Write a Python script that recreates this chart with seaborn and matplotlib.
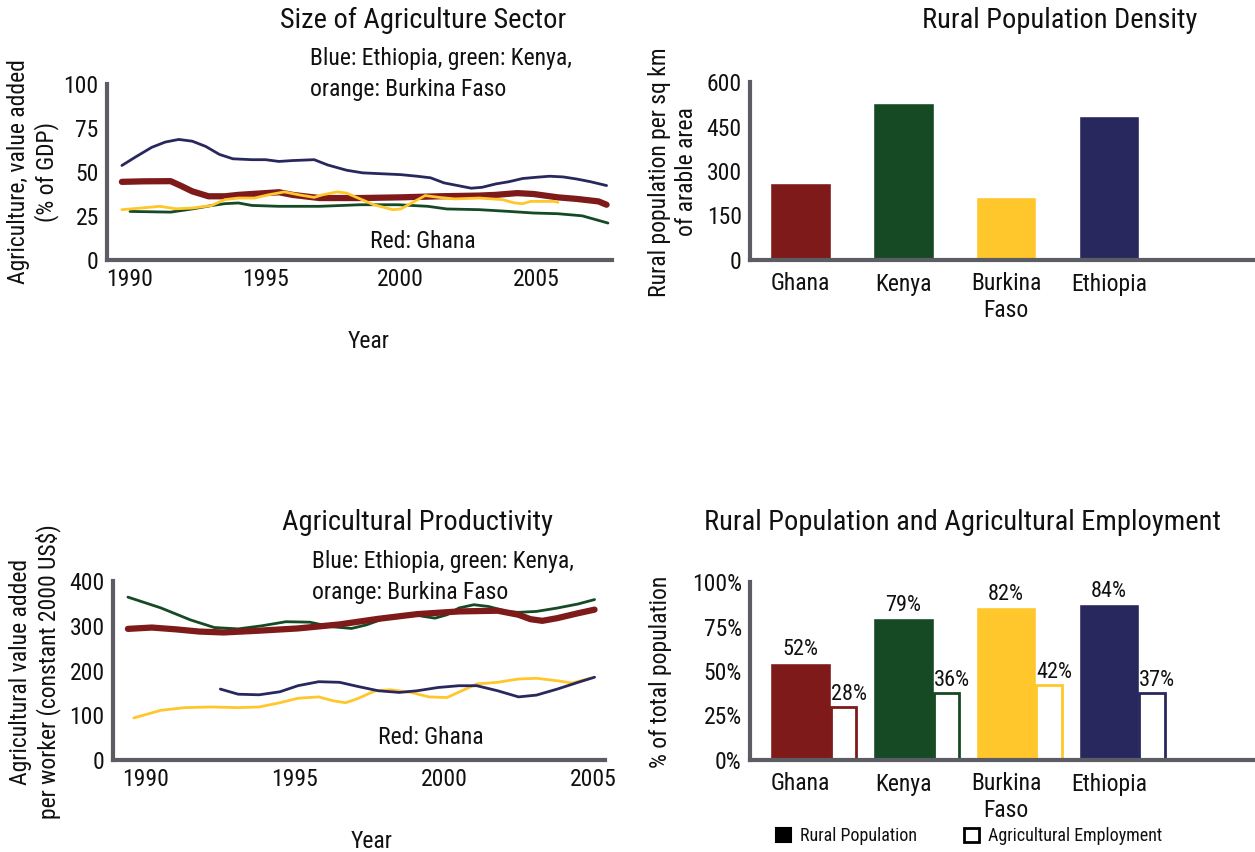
"""
Four panel chart: agriculture in Ghana, Kenya, Burkina Faso and Ethiopia.
"""
import numpy as np
import pandas as pd
import matplotlib
matplotlib.use("Agg")
import matplotlib.pyplot as plt
from matplotlib.patches import Patch
from matplotlib import font_manager
import seaborn as sns

# colours per country
RED = "#7f1a1a"
GREEN = "#154a25"
YELLOW = "#ffc72c"
NAVY = "#29285e"
SPINE = "#5c5c64"

countries = ["Ghana", "Kenya", "Burkina\nFaso", "Ethiopia"]
colors = [RED, GREEN, YELLOW, NAVY]

# --- Size of agriculture sector (% of GDP)
eth_gdp_year = [1989.7, 1990.2, 1990.8, 1991.3, 1991.8, 1992.3, 1992.8, 1993.3,
                1993.8, 1994.5, 1995.0, 1995.5, 1996.0, 1996.8, 1997.3, 1998.0,
                1998.6, 1999.3, 2000.0, 2000.6, 2001.1, 2001.6, 2002.2, 2002.6,
                2003.0, 2003.5, 2004.0, 2004.5, 2005.0, 2005.5, 2006.0, 2006.5,
                2007.0, 2007.6]
eth_gdp = [53.7, 58.5, 64, 67, 68.5, 67.5, 64.5, 60, 57.5, 57, 57, 56, 56.5,
           57, 54, 51, 49.5, 49, 48.5, 47.6, 46.7, 43.8, 42, 40.8, 41.3, 43.2,
           44.5, 46.3, 47, 47.6, 47.2, 46, 44.5, 42.3]

gha_gdp_year = [1989.7, 1990.5, 1991.5, 1991.9, 1992.3, 1992.9, 1993.5, 1994.0,
                1995.0, 1995.5, 1996.0, 1997.0, 1998.5, 2000.0, 2001.4, 2002.9,
                2003.5, 2004.3, 2004.9, 2005.8, 2006.5, 2007.3, 2007.6]
gha_gdp = [44.4, 44.7, 44.8, 42, 39, 36.2, 36.2, 37, 38, 38.5, 37, 35.2, 35.2,
           35.6, 36.2, 36.6, 37, 38, 37.5, 35.6, 34.7, 33.3, 31.4]

bfa_gdp_year = [1989.7, 1990.4, 1991.1, 1991.7, 1992.3, 1993.0, 1993.5, 1994.0,
                1994.6, 1995.1, 1995.7, 1996.25, 1996.8, 1997.1, 1997.65, 1998.0,
                1998.5, 1999.0, 1999.7, 2000.0, 2000.4, 2000.9, 2001.4, 2002.0,
                2002.9, 2003.75, 2004.2, 2004.5, 2004.8, 2005.65, 2005.8]
bfa_gdp = [28.6, 29.5, 30.5, 29.1, 29.5, 30.9, 34.3, 35.2, 35.2, 37, 38.7, 37,
           35.6, 37, 38.7, 38, 34.7, 31.4, 28.6, 29, 32.4, 36.6, 35.6, 34.7,
           35.2, 34.3, 32.4, 32, 33.3, 33.3, 32.8]

ken_gdp_year = [1990.0, 1991.5, 1992.3, 1993.0, 1993.5, 1994.0, 1994.5, 1995.5,
                1997.0, 1997.7, 1998.5, 1999.9, 2001.0, 2001.7, 2002.9, 2004.0,
                2004.9, 2005.8, 2006.7, 2007.65]
ken_gdp = [27.6, 27.2, 29, 30.9, 32, 32.4, 31, 30.5, 30.5, 30.9, 31.4, 31.4,
           30.5, 29, 28.6, 27.6, 26.7, 26.3, 25.1, 21]

# --- Agricultural productivity (value added per worker, constant 2000 US$)
ken_prod_year = [1989.4, 1990.5, 1991.5, 1992.3, 1993.1, 1993.9, 1994.7, 1995.5,
                 1996.2, 1996.9, 1997.4, 1998.2, 1998.9, 1999.3, 1999.7, 2000.1,
                 2000.5, 2001.0, 2001.5, 2002.1, 2002.5, 2003.1, 2003.8, 2004.5,
                 2005.05]
ken_prod = [364, 340, 313, 296, 293, 300, 309, 308, 298, 294, 302, 321, 326,
            321, 317, 324.5, 339.6, 347, 343, 332, 330, 332, 339.6, 348.7, 358.5]

gha_prod_year = [1989.4, 1990.2, 1991.0, 1991.8, 1992.6, 1993.8, 1995.1, 1996.5,
                 1997.8, 1999.1, 2000.5, 2001.8, 2002.5, 2002.9, 2003.3, 2003.8,
                 2004.5, 2005.05]
gha_prod = [293, 296, 292, 287, 285, 289, 294, 303, 315.5, 326, 332, 333.6,
            324.5, 314.7, 311, 317, 328, 336]

eth_prod_year = [1992.5, 1993.1, 1993.8, 1994.5, 1995.1, 1995.8, 1996.5, 1997.1,
                 1997.8, 1998.5, 1999.1, 1999.8, 2000.5, 2001.1, 2001.8, 2002.5,
                 2003.1, 2003.8, 2004.5, 2005.05]
eth_prod = [158.5, 147, 145.7, 152.5, 166, 175, 173.6, 164.5, 154.7, 151, 154.7,
            162, 166, 166, 154.7, 141, 145, 158.5, 173.6, 185]

bfa_prod_year = [1989.6, 1990.5, 1991.3, 1992.2, 1993.1, 1993.8, 1994.5, 1995.1,
                 1995.8, 1996.3, 1996.7, 1997.1, 1997.7, 1998.2, 1998.9, 1999.5,
                 2000.1, 2000.6, 2001.1, 2001.8, 2002.5, 2003.1, 2003.8, 2004.3,
                 2004.9]
bfa_prod = [94, 111, 117, 118.5, 117, 118.5, 128, 138, 141, 132, 128, 137,
            154.7, 157, 151, 141, 139.6, 154.7, 170, 173.6, 181, 182.6, 177,
            172, 182.6]

# --- Rural population density (per sq km of arable area)
density = [260, 530, 212, 486]

# --- Rural population and agricultural employment (% of total population)
rural_pct = [54.7, 79.6, 85.8, 87.7]
rural_lbl = ["52%", "79%", "82%", "84%"]
emp_pct = [29.6, 37.4, 41.9, 37.7]
emp_lbl = ["28%", "36%", "42%", "37%"]

sns.set_theme(style="white")

# pick a narrow face if one is around
names = {f.name for f in font_manager.fontManager.ttflist}
narrow = [n for n in ["Liberation Sans Narrow", "Roboto Condensed",
                      "Noto Sans Condensed", "DejaVu Sans Condensed",
                      "Open Sans Condensed"] if n in names]
plt.rcParams["font.family"] = narrow + ["Noto Sans", "DejaVu Sans"]
if not narrow:
    plt.rcParams["font.stretch"] = "condensed"
plt.rcParams["text.color"] = "#111111"
plt.rcParams["xtick.color"] = "#111111"
plt.rcParams["ytick.color"] = "#111111"

W, H = 1255, 852
fig = plt.figure(figsize=(W / 100, H / 100), dpi=100)

TITLE = 20.5
BODY = 17


def px_axes(left, top, right, bottom):
    """Axes from pixel box (origin top left)."""
    return fig.add_axes([left / W, 1 - bottom / H, (right - left) / W,
                         (bottom - top) / H])


def style(ax):
    sns.despine(ax=ax)
    for s in ["left", "bottom"]:
        ax.spines[s].set_color(SPINE)
        ax.spines[s].set_linewidth(3)
    ax.tick_params(length=0, labelsize=BODY, pad=6)
    ax.set_xlabel("")
    ax.set_ylabel("")


def draw_line(ax, x, y, color, lw):
    sns.lineplot(x=x, y=y, color=color, linewidth=lw, ax=ax, sort=False)


# top left
ax1 = px_axes(107, 84, 612, 260)
draw_line(ax1, ken_gdp_year, ken_gdp, GREEN, 2)
draw_line(ax1, gha_gdp_year, gha_gdp, RED, 4.5)
draw_line(ax1, bfa_gdp_year, bfa_gdp, YELLOW, 2)
draw_line(ax1, eth_gdp_year, eth_gdp, NAVY, 2)
ax1.set_xlim(1989.15, 2007.8)
ax1.set_ylim(0, 100)
ax1.set_xticks([1990, 1995, 2000, 2005])
ax1.set_yticks([0, 25, 50, 75, 100])
style(ax1)

# bottom left
ax3 = px_axes(113, 581, 605, 760)
draw_line(ax3, ken_prod_year, ken_prod, GREEN, 2)
draw_line(ax3, gha_prod_year, gha_prod, RED, 4.5)
draw_line(ax3, bfa_prod_year, bfa_prod, YELLOW, 2)
draw_line(ax3, eth_prod_year, eth_prod, NAVY, 2)
ax3.set_xlim(1988.9, 2005.4)
ax3.set_ylim(0, 400)
ax3.set_xticks([1990, 1995, 2000, 2005])
ax3.set_yticks([0, 100, 200, 300, 400])
style(ax3)

# top right
ax2 = px_axes(750, 82, 1255, 260)
dens_df = pd.DataFrame({"country": countries, "value": density})
sns.barplot(data=dens_df, x="country", y="value", hue="country",
            palette=colors, saturation=1, width=0.59, legend=False, ax=ax2)
ax2.set_xlim(-0.49, 4.42)
ax2.set_ylim(0, 600)
ax2.set_yticks([0, 150, 300, 450, 600])
style(ax2)
ax2.tick_params(axis="x", pad=9)

# bottom right
ax4 = px_axes(750, 582, 1255, 760)
rur_df = pd.DataFrame({"country": countries, "value": rural_pct})
sns.barplot(data=rur_df, x="country", y="value", hue="country",
            palette=colors, saturation=1, width=0.59, legend=False, ax=ax4)
pos = np.arange(len(countries))
ax4.bar(pos + 0.295 + 0.125, emp_pct, width=0.25, facecolor="white",
        edgecolor=colors, linewidth=2, zorder=1)
for i in range(len(countries)):
    ax4.text(pos[i], rural_pct[i] + 1.2, rural_lbl[i], ha="center",
             va="bottom", fontsize=16)
    ax4.text(pos[i] + 0.47, emp_pct[i] + 1.2, emp_lbl[i], ha="center",
             va="bottom", fontsize=16)
ax4.set_xlim(-0.49, 4.42)
ax4.set_ylim(0, 100)
ax4.set_yticks([0, 25, 50, 75, 100])
ax4.set_yticklabels(["0%", "25%", "50%", "75%", "100%"])
style(ax4)
ax4.tick_params(axis="x", pad=9)

# titles
fig.text(423 / W, 1 - 20 / H, "Size of Agriculture Sector", ha="center",
         va="center", fontsize=TITLE)
fig.text(1060 / W, 1 - 20 / H, "Rural Population Density", ha="center",
         va="center", fontsize=TITLE)
fig.text(418 / W, 1 - 523 / H, "Agricultural Productivity", ha="center",
         va="center", fontsize=TITLE)
fig.text(962 / W, 1 - 523 / H, "Rural Population and Agricultural Employment",
         ha="center", va="center", fontsize=TITLE)

# notes inside the line charts
note = "Blue: Ethiopia, green: Kenya,\norange: Burkina Faso"
fig.text(310 / W, 1 - 74 / H, note, ha="left", va="center", fontsize=BODY,
         linespacing=1.4)
fig.text(370 / W, 1 - 241 / H, "Red: Ghana", ha="left", va="center",
         fontsize=BODY)
fig.text(312 / W, 1 - 577 / H, note, ha="left", va="center", fontsize=BODY,
         linespacing=1.4)
fig.text(378 / W, 1 - 737 / H, "Red: Ghana", ha="left", va="center",
         fontsize=BODY)

# axis titles
fig.text(33 / W, 1 - 172 / H, "Agriculture, value added\n(% of GDP)",
         rotation=90, ha="center", va="center", fontsize=BODY)
fig.text(369 / W, 1 - 342 / H, "Year", ha="center", va="center", fontsize=BODY)
fig.text(35 / W, 1 - 672 / H,
         "Agricultural value added\nper worker (constant 2000 US$)",
         rotation=90, ha="center", va="center", fontsize=BODY)
fig.text(372 / W, 1 - 842 / H, "Year", ha="center", va="center", fontsize=BODY)
fig.text(673 / W, 1 - 172 / H, "Rural population per sq km\nof arable area",
         rotation=90, ha="center", va="center", fontsize=BODY)
fig.text(661 / W, 1 - 672 / H, "% of total population", rotation=90,
         ha="center", va="center", fontsize=BODY)

# legend for the bottom right chart
handles = [Patch(facecolor="black", edgecolor="black", linewidth=1.5),
           Patch(facecolor="white", edgecolor="black", linewidth=2)]
fig.legend(handles, ["Rural Population", "Agricultural Employment"],
           loc="center", bbox_to_anchor=(969 / W, 1 - 836 / H), ncol=2,
           frameon=False, fontsize=13, handlelength=0.85, handleheight=0.85,
           columnspacing=2.6, handletextpad=0.5)

fig.savefig("out.png", dpi=100)
